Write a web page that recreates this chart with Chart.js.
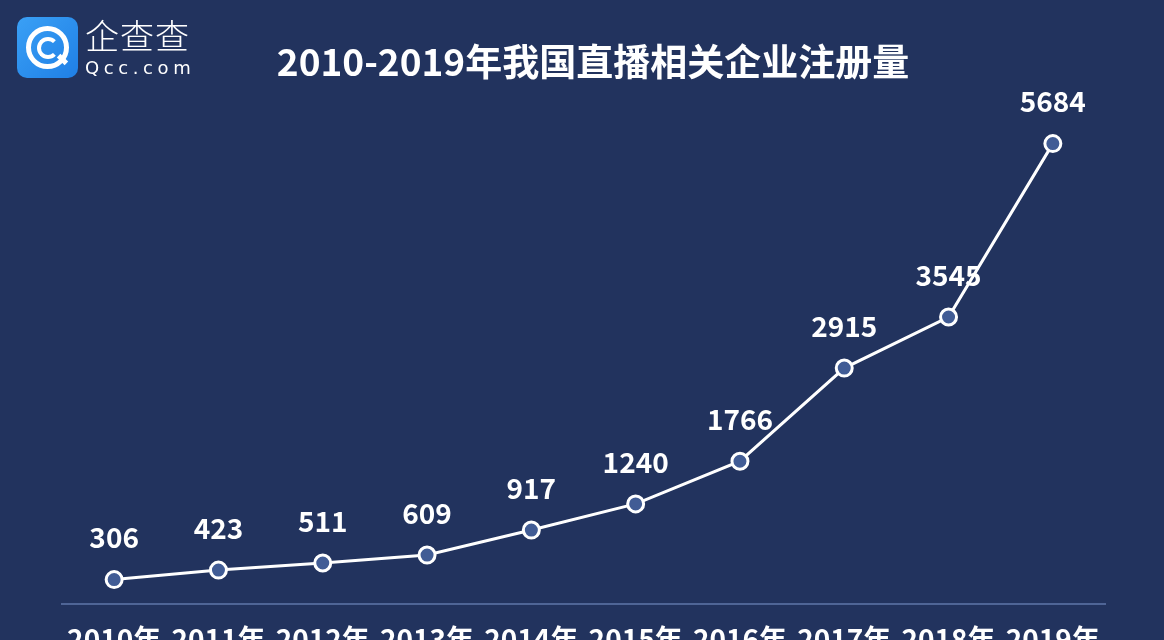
<!DOCTYPE html>
<html>
<head>
<meta charset="utf-8">
<script src="https://cdn.jsdelivr.net/npm/chart.js@4/dist/chart.umd.min.js"></script>
<style>
  html, body { margin: 0; padding: 0; background: #22335e; overflow: hidden; }
  #wrap { position: relative; width: 1164px; height: 666px; }
  #logo { position: absolute; left: 17px; top: 17px; width: 61px; height: 61px; border-radius: 10px;
          background: linear-gradient(135deg, #3aa0f5, #1f7fe6); }
  #logo .o1 { position: absolute; left: 9px; top: 9px; width: 33px; height: 33px; border: 5px solid #fff; border-radius: 50%; }
  #logo .o2 { position: absolute; left: 20px; top: 20px; width: 14px; height: 14px; border: 4px solid #fff; border-radius: 50%; border-right-color: transparent; }
  #logo .tail { position: absolute; left: 40px; top: 40px; width: 11px; height: 5px; background: #fff; transform: rotate(45deg); }
  #brand { position: absolute; left: 85px; top: 14px; color: #fff; font-family: "Noto Sans CJK SC", sans-serif; }
  #brand .cn { font-size: 34px; letter-spacing: 1px; line-height: 42px; font-weight: 300; }
  #brand .en { font-size: 18px; letter-spacing: 4.6px; line-height: 24px; font-family: "DejaVu Sans", sans-serif; }
  #title { position: absolute; left: 0; width: 1186px; top: 37px; text-align: center; color: #fff;
           font-family: "Noto Sans CJK SC", sans-serif; font-weight: bold; font-size: 37px; line-height: 46px; }
</style>
</head>
<body>
<div id="wrap">
  <canvas id="chart" width="1164" height="666"></canvas>
  <div id="logo"><div class="o1"></div><div class="o2"></div><div class="tail"></div></div>
  <div id="brand"><div class="cn">企查查</div><div class="en">Qcc.com</div></div>
  <div id="title"></div>
</div>
<script>
"use strict"

var years = ["2010年", "2011年", "2012年", "2013年", "2014年", "2015年", "2016年", "2017年", "2018年", "2019年"];
var registrations = [306, 423, 511, 609, 917, 1240, 1766, 2915, 3545, 5684];
var chartTitle = "2010-2019年我国直播相关企业注册量";

var fontName = '"Noto Sans CJK SC", sans-serif';

document.getElementById('title').textContent = chartTitle;

// draws the value above each point
var valueLabels = {
    id: 'valueLabels',
    afterDatasetsDraw: function (chart) {
        var ctx = chart.ctx;
        var meta = chart.getDatasetMeta(0);
        ctx.save();
        ctx.fillStyle = '#ffffff';
        ctx.font = 'bold 28px ' + fontName;
        ctx.textAlign = 'center';
        ctx.textBaseline = 'middle';
        meta.data.forEach(function (pt, i) {
            ctx.fillText(String(chart.data.datasets[0].data[i]), pt.x, pt.y - 42);
        });
        ctx.restore();
    }
};

new Chart(document.getElementById('chart'), {
    type: 'line',
    data: {
        labels: years,
        datasets: [{
            data: registrations,
            borderColor: '#ffffff',
            borderWidth: 3,
            pointRadius: 8,
            pointBorderWidth: 3,
            pointBorderColor: '#ffffff',
            pointBackgroundColor: '#415c95',
            tension: 0
        }]
    },
    options: {
        responsive: false,
        animation: false,
        layout: { padding: { left: 62, right: 59, top: 118, bottom: 0 } },
        plugins: {
            legend: { display: false },
            tooltip: { enabled: false },
            title: { display: false }
        },
        scales: {
            x: {
                offset: true,
                grid: { display: false },
                border: { display: true, color: '#4f6596', width: 2 },
                ticks: {
                    color: '#ffffff',
                    font: { family: fontName, size: 28, weight: 'bold' },
                    padding: 10,
                    maxRotation: 0,
                    autoSkip: false
                }
            },
            y: {
                display: false,
                min: 0,
                max: 6000
            }
        }
    },
    plugins: [valueLabels]
});
</script>
</body>
</html>
